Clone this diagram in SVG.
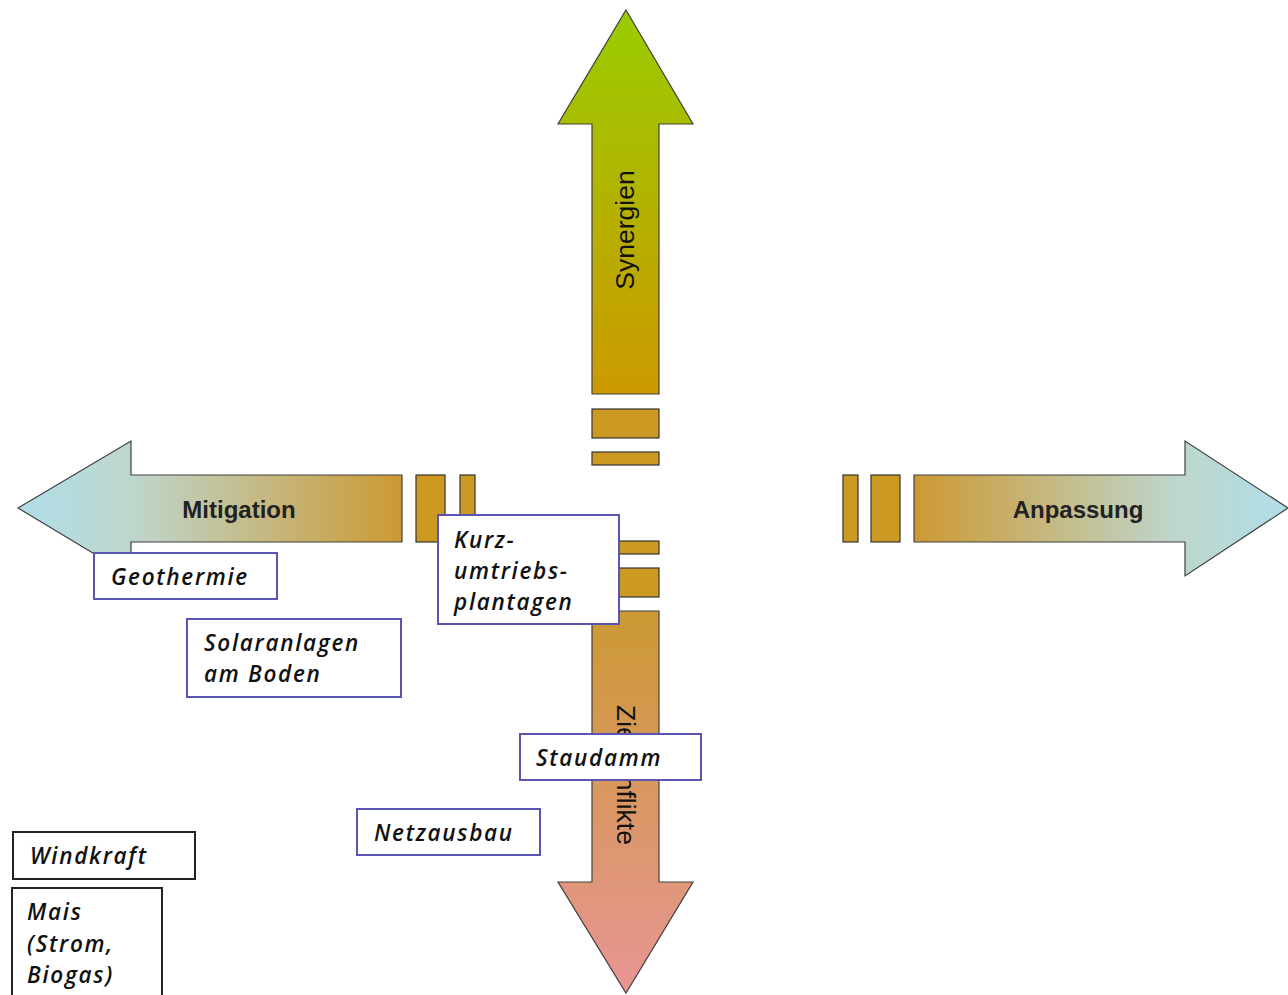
<svg xmlns="http://www.w3.org/2000/svg" width="1288" height="995" viewBox="0 0 1288 995">
<defs>
<linearGradient id="gUp" x1="0" y1="0" x2="0" y2="1">
<stop offset="0" stop-color="#99cc00"/><stop offset="1" stop-color="#cc9900"/>
</linearGradient>
<linearGradient id="gDown" x1="0" y1="0" x2="0" y2="1">
<stop offset="0" stop-color="#cc9933"/><stop offset="1" stop-color="#e89595"/>
</linearGradient>
<linearGradient id="gLeft" x1="0" y1="0" x2="1" y2="0">
<stop offset="0.05" stop-color="#b2dde4"/><stop offset="0.3" stop-color="#bed6cc"/><stop offset="1" stop-color="#cc9933"/>
</linearGradient>
<linearGradient id="gRight" x1="1" y1="0" x2="0" y2="0">
<stop offset="0.05" stop-color="#b2dde4"/><stop offset="0.3" stop-color="#bed6cc"/><stop offset="1" stop-color="#cc9933"/>
</linearGradient>
<style>
.arr{stroke:#404040;stroke-width:1.2;stroke-linejoin:miter}
.bar{fill:#cc9922;stroke:#333;stroke-width:1.2}
.lbl{font-family:"Liberation Sans",Arial,sans-serif;font-size:26.5px;fill:#111}
.hl{font-family:"Liberation Sans",Arial,sans-serif;font-size:24px;font-weight:bold;fill:#222}
.box{fill:#fff;stroke:#5a55b5;stroke-width:2}
.bbox{fill:#fff;stroke:#222;stroke-width:2}
.t{font-family:"Open Sans","DejaVu Sans",sans-serif;font-style:italic;font-weight:600;font-size:22.5px;letter-spacing:1.7px;fill:#111}
</style>
</defs>
<g id="arrow-up">
<path class="arr" fill="url(#gUp)" d="M626,10 L693,124 L659,124 L659,394 L592,394 L592,124 L558,124 Z"/>
<rect class="bar" x="592" y="409" width="67" height="29"/>
<rect class="bar" x="592" y="452" width="67" height="13"/>
<text class="lbl" transform="translate(634,230) rotate(-90)" text-anchor="middle">Synergien</text>
</g>
<g id="arrow-down">
<path class="arr" fill="url(#gDown)" d="M592,611 L659,611 L659,882 L693,882 L626,993 L558,882 L592,882 Z"/>
<rect class="bar" x="592" y="541" width="67" height="13"/>
<rect class="bar" x="592" y="568" width="67" height="29"/>
<text class="lbl" transform="translate(617,775) rotate(90)" text-anchor="middle">Zielkonflikte</text>
</g>
<g id="arrow-left">
<path class="arr" fill="url(#gLeft)" d="M18,508 L131,441 L131,475 L402,475 L402,542 L131,542 L131,576 Z"/>
<rect class="bar" x="416" y="475" width="29" height="67"/>
<rect class="bar" x="460" y="475" width="15" height="67"/>
<text class="hl" x="239" y="518" text-anchor="middle">Mitigation</text>
</g>
<g id="arrow-right">
<path class="arr" fill="url(#gRight)" d="M914,475 L1185,475 L1185,441 L1288,508 L1185,576 L1185,542 L914,542 Z"/>
<rect class="bar" x="843" y="475" width="15" height="67"/>
<rect class="bar" x="871" y="475" width="29" height="67"/>
<text class="hl" x="1078" y="518" text-anchor="middle">Anpassung</text>
</g>
<g id="geothermie">
<rect class="box" x="94" y="553" width="183" height="46"/>
<text class="t" x="111" y="585">Geothermie</text>
</g>
<g id="kup">
<rect class="box" x="438" y="515" width="181" height="109"/>
<text class="t" x="454" y="548">Kurz-</text>
<text class="t" x="454" y="579">umtriebs-</text>
<text class="t" x="454" y="610">plantagen</text>
</g>
<g id="solar">
<rect class="box" x="187" y="619" width="214" height="78"/>
<text class="t" x="204" y="651">Solaranlagen</text>
<text class="t" x="204" y="682">am Boden</text>
</g>
<g id="staudamm">
<rect class="box" x="520" y="734" width="181" height="46"/>
<text class="t" x="536" y="766">Staudamm</text>
</g>
<g id="netzausbau">
<rect class="box" x="357" y="809" width="183" height="46"/>
<text class="t" x="374" y="841">Netzausbau</text>
</g>
<g id="windkraft">
<rect class="bbox" x="13" y="832" width="182" height="47"/>
<text class="t" x="30" y="864">Windkraft</text>
</g>
<g id="mais">
<rect class="bbox" x="12" y="888" width="150" height="112"/>
<text class="t" x="27" y="920">Mais</text>
<text class="t" x="27" y="952">(Strom,</text>
<text class="t" x="27" y="983">Biogas)</text>
</g>
<g id="connectors"/>
</svg>
